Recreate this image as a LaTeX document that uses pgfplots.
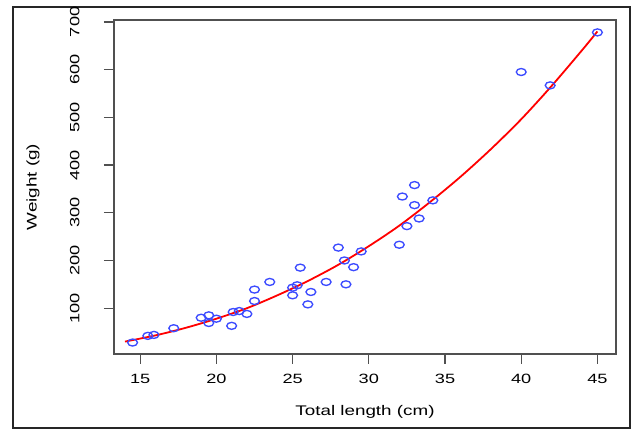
\documentclass[border=0pt]{standalone}
\usepackage{fontspec}
\setmainfont{Liberation Sans}[FakeStretch=1.35]
\usepackage{pgfplots}
\pgfplotsset{compat=1.18}

\definecolor{ptblue}{RGB}{60,75,255}
\definecolor{axgray}{RGB}{80,80,80}

\begin{document}
\begin{tikzpicture}
\useasboundingbox (0,0) rectangle (632bp,430bp);
\draw[line width=1.3bp, black!85] (13bp,2bp) rectangle (630bp,423bp);
\begin{axis}[
    at={(114bp,76bp)}, anchor=south west,
    scale only axis,
    width=502bp, height=334bp,
    xmin=13.28, xmax=46.22,
    ymin=4, ymax=704,
    xtick={15,20,...,45},
    ytick={100,200,...,700},
    tick pos=left,
    tick align=outside,
    major tick length=10bp,
    axis line style={axgray, line width=1.4bp},
    every tick/.style={axgray, line width=1.3bp},
    /pgf/number format/assume math mode=true,
    ticklabel style={font=\fontsize{13.5}{15}\selectfont},
    xticklabel shift=7bp,
    yticklabel style={rotate=90, anchor=south},
    yticklabel shift=21bp,
    xlabel={Total length (cm)},
    ylabel={Weight (g)},
    label style={font=\fontsize{14}{16}\selectfont},
    xlabel style={at={(axis description cs:0.5,-0.1737)}, anchor=center},
    ylabel style={at={(axis description cs:-0.1614,0.5)}, anchor=center},
    clip=false,
]
% observed fish
\addplot[only marks, mark=o, mark size=3.5bp,
         mark options={ptblue, line width=1.35bp, xscale=1.4}]
coordinates {
    (14.5,28) (15.5,42) (15.9,44) (17.2,58) (19.0,80) (19.5,85) (19.5,69)
    (20.0,78) (21.0,63) (21.1,92) (21.5,94) (22.0,88) (22.5,139) (22.5,115)
    (23.5,155) (25.0,143) (25.0,127) (25.3,148) (25.5,185) (26.0,108)
    (26.2,134) (27.2,155) (28.0,227) (28.4,200) (28.5,150) (29.0,186)
    (29.5,219) (32.0,233) (32.2,334) (33.0,358) (33.0,316) (32.5,272)
    (33.3,288) (34.2,326) (40.0,595) (41.9,567) (45.0,678)
};
% fitted curve
\addplot[red, line width=1.8bp, smooth, no marks]
coordinates {
    (14,30) (16,43) (18,59) (20,78) (22,100) (24,127) (26,157) (28,191)
    (30,230) (32,273) (34,322) (36,375) (38,433) (40,496) (42,566)
    (44,641) (45,680)
};
\end{axis}
\end{tikzpicture}
\end{document}
